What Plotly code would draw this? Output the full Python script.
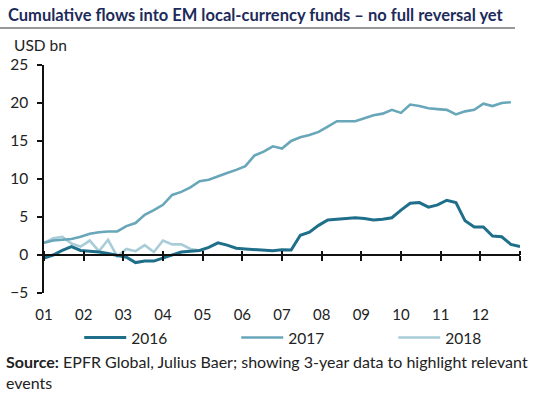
import plotly.graph_objects as go

# ---- data (weekly cumulative flows, USD bn) ----
flows_2016 = [-0.4, 0.0, 0.6, 1.1, 0.6, 0.5, 0.4, 0.2, -0.1, -0.3,
              -1.0, -0.8, -0.8, -0.4, -0.1, 0.4, 0.5, 0.6, 1.0, 1.6,
              1.3, 0.9, 0.8, 0.7, 0.6, 0.55, 0.7, 0.65, 2.6, 3.0,
              3.9, 4.6, 4.7, 4.8, 4.9, 4.8, 4.6, 4.7, 4.9, 5.9,
              6.8, 6.9, 6.3, 6.6, 7.2, 6.9, 4.5, 3.7, 3.7, 2.5,
              2.4, 1.4, 1.1]
flows_2017 = [1.6, 1.9, 2.0, 2.1, 2.4, 2.8, 3.0, 3.1, 3.1, 3.8,
              4.2, 5.3, 5.9, 6.6, 7.9, 8.3, 8.9, 9.7, 9.9, 10.4,
              10.8, 11.2, 11.7, 13.1, 13.6, 14.3, 14.0, 15.0, 15.5, 15.8,
              16.2, 16.9, 17.6, 17.6, 17.6, 18.0, 18.4, 18.6, 19.1, 18.7,
              19.8, 19.6, 19.3, 19.2, 19.1, 18.5, 18.9, 19.1, 19.9, 19.6,
              20.0, 20.1]
flows_2018 = [1.6, 2.2, 2.4, 1.5, 1.1, 1.9, 0.5, 2.0, -0.2, 0.8,
              0.5, 1.3, 0.4, 1.9, 1.4, 1.4, 0.8, 0.6]

month_ticks = list(range(1, 14))
month_labels = ["01", "02", "03", "04", "05", "06", "07", "08", "09", "10", "11", "12", ""]
y_ticks = [-5, 0, 5, 10, 15, 20, 25]

series = [("2016", flows_2016, "#1f6f8b", 3.0),
          ("2017", flows_2017, "#68a6b9", 2.6),
          ("2018", flows_2018, "#a9cdd8", 2.6)]


def week_pos(n):
    # weekly observations mapped onto a month axis (1 .. 13)
    return [1 + i * 12 / 52 for i in range(n)]


FONT = "Lato, 'Open Sans', sans-serif"
fig = go.Figure()

for rank, (name, vals, color, w) in reversed(list(enumerate(series))):
    fig.add_trace(go.Scatter(
        x=week_pos(len(vals)), y=vals, name=name, mode="lines",
        line=dict(color=color, width=w), legendrank=rank + 1,
    ))

# helper traces for the zero-line axes (ticks crossing the zero line)
for ax in ("x2", "x3"):
    fig.add_trace(go.Scatter(x=[1, 13], y=[None, None], xaxis=ax, yaxis="y",
                             showlegend=False, hoverinfo="skip", mode="lines"))

zero_pos = (0 - (-5)) / 30

fig.update_layout(
    width=548, height=393,
    margin=dict(l=44, r=28, t=65, b=100, autoexpand=False),
    paper_bgcolor="white", plot_bgcolor="white",
    font=dict(family=FONT, size=14, color="#222222"),
    showlegend=True,
    legend=dict(orientation="h", x=0.074, y=-0.197, xanchor="left", yanchor="middle",
                entrywidth=100, entrywidthmode="pixels", itemwidth=42,
                font=dict(size=15.5, color="#222222"),
                bgcolor="rgba(0,0,0,0)", traceorder="normal"),
    title=dict(text="<b>Cumulative flows into EM local-currency funds – no full reversal yet</b>",
               x=8 / 548, xanchor="left", y=1 - 15 / 393, yanchor="middle",
               xref="container", yref="container",
               font=dict(family=FONT, size=16.5, color="#1d2b5a")),
    xaxis=dict(range=[1, 13], tickvals=month_ticks, ticktext=month_labels, automargin=False,
               showgrid=False, zeroline=False, showline=False,
               ticks="outside", ticklen=8, tickcolor="rgba(0,0,0,0)",
               tickfont=dict(size=15, color="#222222")),
    xaxis2=dict(range=[1, 13], overlaying="x", anchor="free", position=zero_pos,
                side="bottom", tickvals=month_ticks, showticklabels=False, automargin=False,
                showgrid=False, zeroline=False, showline=True, linecolor="#111111",
                linewidth=1.5, ticks="outside", ticklen=5, tickwidth=1.5, tickcolor="#111111"),
    xaxis3=dict(range=[1, 13], overlaying="x", anchor="free", position=zero_pos,
                side="top", tickvals=month_ticks, showticklabels=False, automargin=False,
                showgrid=False, zeroline=False, showline=False,
                ticks="outside", ticklen=4, tickwidth=1.5, tickcolor="#111111"),
    yaxis=dict(range=[-5, 25], tickvals=y_ticks, showgrid=False, zeroline=False, automargin=False,
               showline=True, linecolor="#111111", linewidth=1.5,
               ticks="outside", ticklen=5, tickwidth=1.5, tickcolor="#111111",
               ticklabelstandoff=6,
               tickfont=dict(size=15.5, color="#222222")),
    shapes=[dict(type="line", xref="paper", yref="paper",
                 x0=-44 / 476, x1=471 / 476, y0=1 + 37 / 228, y1=1 + 37 / 228,
                 line=dict(color="#333333", width=1))],
    annotations=[
        dict(text="USD bn", xref="paper", yref="paper", x=-32 / 476, y=1 + 20 / 228,
             xanchor="left", yanchor="middle", showarrow=False,
             font=dict(size=15.5, color="#222222")),
        dict(text="<b>Source:</b> EPFR Global, Julius Baer; showing 3-year data to highlight relevant<br>events",
             xref="paper", yref="paper", x=-40 / 476, y=-57 / 228,
             xanchor="left", yanchor="top", align="left", showarrow=False,
             font=dict(size=16, color="#222222")),
    ],
)

fig.write_html("out.html", config={"displayModeBar": False},
               post_script="document.body.style.margin='0';document.body.style.padding='0';")
